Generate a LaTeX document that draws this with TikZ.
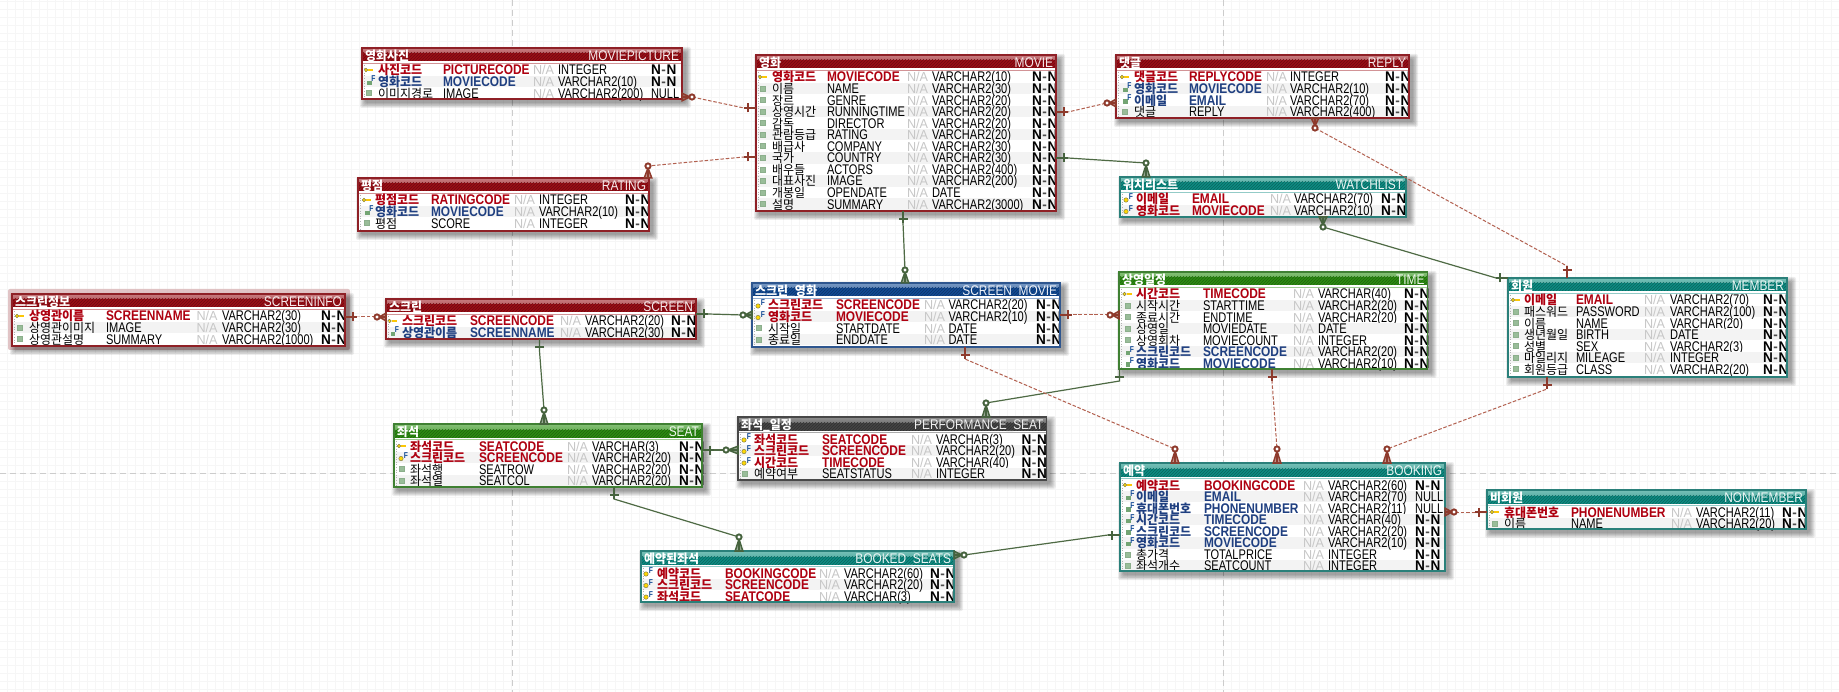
\documentclass[tikz,border=0pt]{standalone}
\usepackage{fontspec}
\usetikzlibrary{calc,patterns}
\setmainfont{Liberation Sans}
\newfontfamily\fReg{Liberation Sans}[FakeStretch=0.79]
\newfontfamily\fBld{Liberation Sans}[FakeStretch=0.85]
\newfontfamily\fWide{Liberation Sans}[FakeStretch=0.97]
\newfontfamily\fKor{Noto Sans CJK KR}[FakeStretch=0.96]
\definecolor{redband}{HTML}{9A0E16}\definecolor{redlight}{HTML}{BC6468}\definecolor{redframe}{HTML}{8F2026}
\definecolor{greenband}{HTML}{2C8C12}\definecolor{greenlight}{HTML}{6FB45E}\definecolor{greenframe}{HTML}{3F8032}
\definecolor{tealband}{HTML}{0E8C82}\definecolor{teallight}{HTML}{5FB4AA}\definecolor{tealframe}{HTML}{2A807A}
\definecolor{blueband}{HTML}{124A94}\definecolor{bluelight}{HTML}{6086B8}\definecolor{blueframe}{HTML}{2E568F}
\definecolor{darkband}{HTML}{444444}\definecolor{darklight}{HTML}{7A7A7A}\definecolor{darkframe}{HTML}{484848}
\definecolor{keyred}{HTML}{AE0010}\definecolor{fkblue}{HTML}{1F3F80}\definecolor{stripe}{HTML}{F3F3F3}
\definecolor{relred}{HTML}{8E3A2C}\definecolor{relredl}{HTML}{B2604F}\definecolor{relgreen}{HTML}{46633E}\definecolor{relgreenl}{HTML}{4E6A44}
\tikzset{
  cell/.style={inner sep=0pt,outer sep=0pt,anchor=base west},
  tblbox/.style={inner sep=0pt,outer sep=0pt,anchor=north west},
  guideline/.style={draw=black!20,line width=.9pt,dash pattern=on 6pt off 4pt},
  redmark/.style={color=relred},
  greenmark/.style={color=relgreen},
  redline/.style={draw=relredl,line width=1pt,dash pattern=on 3.5pt off 1.8pt},
  greenline/.style={draw=relgreenl,line width=1.2pt},
  crowmark/.pic={
    \draw[line width=1.5pt,fill,fill opacity=.55] (0,-3.8) -- (#1-2,0) -- (0,3.8) -- cycle;
    \draw[line width=1.7pt] (0,0) -- (#1,0);
    \draw[line width=1.9pt,fill=white] (#1,0) circle (2.6pt);
  },
  barmark/.pic={
    \draw[line width=1.9pt] (0,0) -- (12,0);
    \draw[line width=1.9pt] (8,-4.5) -- (8,4.5);
  }
}
\newcount\cellno
\newcommand\cell[3]{\global\advance\cellno 1 \node[cell,#1] (cell\the\cellno) at (#2) {#3};}
% table: name x1 y1 x2 y2 theme korean english
\newcommand\tbl[8]{%
  \def\tx{#2}\def\ty{#3}\def\tX{#4}\def\tY{#5}\def\tname{#1}%
  \colorlet{band}{#6band}\colorlet{lite}{#6light}\colorlet{frame}{#6frame}%
  \def\rowi{0}%
  \foreach \e in {6,5,4,3,2,1}
    \fill[black,opacity=.07,rounded corners=2pt] ({#2+4-\e},{#3+5-\e}) rectangle ({#4+3+\e},{#5+3+\e});
  \fill[white] (#2,#3) rectangle (#4,#5);
  \fill[band] (#2,#3) rectangle (#4,#3+14);
  \shade[top color=lite!85!white,bottom color=lite] (#2,#3) rectangle (#4,#3+5);
  \fill[pattern=north east lines,pattern color=band!72!black] (#2,#3+5) rectangle (#4,#3+13.5);
  \fill[white] (#2,#3+13.5) rectangle (#4,#3+15);
  \fill[band!45!white] (#2,#3+15) rectangle (#4,#3+16);
  \node[tblbox,minimum width={(#4-#2)*1pt},minimum height={(#5-#3)*1pt}] (#1) at (#2,#3) {};
  \cell{text=white}{#2+3,#3+12.5}{\fKor\bfseries\fontsize{12.5}{13}\selectfont #7}
  \global\advance\cellno 1
  \node[cell,anchor=base east,text=white!88!lite] (cell\the\cellno) at (#4-3,#3+12.5) {\fBld\fontsize{14}{14}\selectfont #8};
}
\newcommand\cols[6]{\def\cI{#1}\def\cK{#2}\def\cE{#3}\def\cN{#4}\def\cT{#5}\def\cL{#6}}
\newcommand\iconF[2]{\global\advance\cellno 1
  \node[cell,anchor=center,text=blueband] (cell\the\cellno) at (#1,#2) {\fReg\bfseries\fontsize{8.5}{8}\selectfont F};}
\newcommand\rowicon[3]{%
  \ifx#1k
    \draw[draw=black!55!yellow,fill=yellow!75!orange,line width=.5pt] (#2-3,#3) circle (1.8pt);
    \draw[draw=yellow!60!orange,line width=1.5pt] (#2-1,#3) -- (#2+4,#3);
  \fi
  \ifx#1d
    \draw[draw=black!55!yellow,fill=yellow!75!orange,line width=.5pt] (#2-1,#3+1) circle (2.2pt);
    \iconF{#2+4}{#3-2}
  \fi
  \ifx#1f
    \fill[green!35!black!55!white] (#2-2,#3-1) rectangle (#2+2.5,#3+3.5);
    \iconF{#2+4.5}{#3-2.5}
  \fi
  \ifx#1p
    \filldraw[draw=green!30!black!45!white,fill=green!35!black!40!white,line width=.6pt] (#2-2.5,#3-2.5) rectangle (#2+2.5,#3+2.5);
  \fi
}
% row: icon kind korean english type nn
\newcommand\row[6]{%
  \pgfmathsetmacro\ry{\ty+22+\rowi*11.55}%
  \pgfmathsetmacro\rb{\ry+5}%
  \pgfmathparse{int(mod(\rowi,2))}%
  \ifnum\pgfmathresult=1 \fill[stripe] (\tx+.5,\ry-5.75) rectangle (\tX-.5,\ry+5.75);\fi
  \rowicon{#1}{\cI}{\ry}
  \if#2k
    \cell{text=keyred}{\cK,\rb}{\fKor\bfseries\fontsize{12.5}{13}\selectfont #3}
    \cell{text=keyred}{\cE,\rb}{\fBld\bfseries\fontsize{14}{14}\selectfont #4}
  \else\if#2f
    \cell{text=fkblue}{\cK,\rb}{\fKor\bfseries\fontsize{12.5}{13}\selectfont #3}
    \cell{text=fkblue}{\cE,\rb}{\fBld\bfseries\fontsize{14}{14}\selectfont #4}
  \else
    \cell{text=black}{\cK,\rb}{\fKor\fontsize{12.5}{13}\selectfont #3}
    \cell{text=black}{\cE,\rb}{\fReg\fontsize{14}{14}\selectfont #4}
  \fi\fi
  \cell{text=black!22}{\cN,\rb}{\fWide\fontsize{13}{13}\selectfont N/A}
  \cell{text=black}{\cT,\rb}{\fReg\fontsize{14}{14}\selectfont #5}
  \cell{text=black}{\cL,\rb}{#6}
  \pgfmathsetmacro\rowi{int(\rowi+1)}%
}
\newcommand\NN{\fWide\bfseries\fontsize{14}{14}\selectfont N{\color{black!70}\kern.6pt-\kern.6pt}N}
\newcommand\NU{\fReg\fontsize{14}{14}\selectfont NULL}
\newcommand\closetbl{%
  \draw[black!30,line width=.6pt,dotted] (\tx+2.5,\ty+17) -- (\tx+2.5,\tY-1);
  \draw[frame,line width=1.4pt] (\tx,\ty) rectangle (\tX,\tY);
}
% connector: kind A rotA lenA B rotB
\newcommand\conn[6]{%
  \draw[#1line] (#2) -- ($(#2)+(#3:#4pt)$) -- ($(#5)+(#6:12pt)$) -- (#5);
  \path (#2) pic[rotate=#3,#1mark] {crowmark=#4};
  \path (#5) pic[rotate=#6,#1mark] {barmark};
}
\begin{document}
\begin{tikzpicture}[x=1pt,y=-1pt]
\useasboundingbox (0,0) rectangle (1839,692);
\fill[white] (0,0) rectangle (1839,692);
\foreach \gx in {0,...,229} \draw[black!3.5,line width=.9pt] ({7.5+8*\gx},0) -- ({7.5+8*\gx},692);
\foreach \gy in {0,...,86} \draw[black!3.5,line width=.9pt] (0,{1+8*\gy}) -- (1839,{1+8*\gy});
\coordinate (gvaT) at (512,0); \coordinate (gvaB) at (512,692);
\coordinate (gvbT) at (1223,0); \coordinate (gvbB) at (1223,692);
\coordinate (ghL) at (0,473); \coordinate (ghR) at (1839,473);
\draw[guideline] (gvaT) -- (gvaB);
\draw[guideline] (gvbT) -- (gvbB);
\draw[guideline] (ghL) -- (ghR);
\fill[redframe!35!white,rounded corners=2pt,opacity=.75] (8,289) rectangle (350,350);

\tbl{moviepicture}{362}{48}{682}{99}{red}{영화사진}{MOVIEPICTURE}
\cols{369}{378}{443}{533}{558}{651}
\row{k}{k}{사진코드}{PICTURECODE}{INTEGER}{\NN}
\row{f}{f}{영화코드}{MOVIECODE}{VARCHAR2(10)}{\NN}
\row{p}{n}{이미지경로}{IMAGE}{VARCHAR2(200)}{\NU}
\closetbl

\tbl{rating}{358}{178}{649}{231}{red}{평점}{RATING}
\cols{367}{375}{431}{514}{539}{625}
\row{k}{k}{평점코드}{RATINGCODE}{INTEGER}{\NN}
\row{f}{f}{영화코드}{MOVIECODE}{VARCHAR2(10)}{\NN}
\row{p}{n}{평점}{SCORE}{INTEGER}{\NN}
\closetbl

\tbl{movie}{756}{55}{1056}{211}{red}{영화}{MOVIE}
\cols{763}{772}{827}{907}{932}{1032}
\row{k}{k}{영화코드}{MOVIECODE}{VARCHAR2(10)}{\NN}
\row{p}{n}{이름}{NAME}{VARCHAR2(30)}{\NN}
\row{p}{n}{장르}{GENRE}{VARCHAR2(20)}{\NN}
\row{p}{n}{상영시간}{RUNNINGTIME}{VARCHAR2(20)}{\NN}
\row{p}{n}{감독}{DIRECTOR}{VARCHAR2(20)}{\NN}
\row{p}{n}{관람등급}{RATING}{VARCHAR2(20)}{\NN}
\row{p}{n}{배급사}{COMPANY}{VARCHAR2(30)}{\NN}
\row{p}{n}{국가}{COUNTRY}{VARCHAR2(30)}{\NN}
\row{p}{n}{배우들}{ACTORS}{VARCHAR2(400)}{\NN}
\row{p}{n}{대표사진}{IMAGE}{VARCHAR2(200)}{\NN}
\row{p}{n}{개봉일}{OPENDATE}{DATE}{\NN}
\row{p}{n}{설명}{SUMMARY}{VARCHAR2(3000)}{\NN}
\closetbl

\tbl{reply}{1116}{55}{1409}{118}{red}{댓글}{REPLY}
\cols{1125}{1134}{1189}{1266}{1290}{1385}
\row{k}{k}{댓글코드}{REPLYCODE}{INTEGER}{\NN}
\row{f}{f}{영화코드}{MOVIECODE}{VARCHAR2(10)}{\NN}
\row{f}{f}{이메일}{EMAIL}{VARCHAR2(70)}{\NN}
\row{p}{n}{댓글}{REPLY}{VARCHAR2(400)}{\NN}
\closetbl

\tbl{watchlist}{1120}{177}{1406}{217}{teal}{워치리스트}{WATCHLIST}
\cols{1127}{1136}{1192}{1270}{1294}{1381}
\row{d}{k}{이메일}{EMAIL}{VARCHAR2(70)}{\NN}
\row{d}{k}{영화코드}{MOVIECODE}{VARCHAR2(10)}{\NN}
\closetbl

\tbl{screeninfo}{12}{294}{345}{346}{red}{스크린정보}{SCREENINFO}
\cols{20}{29}{106}{196.5}{222}{321}
\row{k}{k}{상영관이름}{SCREENNAME}{VARCHAR2(30)}{\NN}
\row{p}{n}{상영관이미지}{IMAGE}{VARCHAR2(30)}{\NN}
\row{p}{n}{상영관설명}{SUMMARY}{VARCHAR2(1000)}{\NN}
\closetbl

\tbl{screen}{386}{299}{696}{339}{red}{스크린}{SCREEN}
\cols{392.5}{402}{470}{560}{585}{671}
\row{k}{k}{스크린코드}{SCREENCODE}{VARCHAR2(20)}{\NN}
\row{f}{f}{상영관이름}{SCREENNAME}{VARCHAR2(30)}{\NN}
\closetbl

\tbl{screenmovie}{752}{283}{1060}{347}{blue}{스크린\_영화}{SCREEN\_MOVIE}
\cols{759}{768}{836}{924}{948.5}{1036}
\row{d}{k}{스크린코드}{SCREENCODE}{VARCHAR2(20)}{\NN}
\row{d}{k}{영화코드}{MOVIECODE}{VARCHAR2(10)}{\NN}
\row{p}{n}{시작일}{STARTDATE}{DATE}{\NN}
\row{p}{n}{종료일}{ENDDATE}{DATE}{\NN}
\closetbl

\tbl{timetbl}{1119}{272}{1427.5}{369}{green}{상영일정}{TIME}
\cols{1127.5}{1136}{1203}{1293}{1318}{1404}
\row{k}{k}{시간코드}{TIMECODE}{VARCHAR(40)}{\NN}
\row{p}{n}{시작시간}{STARTTIME}{VARCHAR2(20)}{\NN}
\row{p}{n}{종료시간}{ENDTIME}{VARCHAR2(20)}{\NN}
\row{p}{n}{상영일}{MOVIEDATE}{DATE}{\NN}
\row{p}{n}{상영회차}{MOVIECOUNT}{INTEGER}{\NN}
\row{f}{f}{스크린코드}{SCREENCODE}{VARCHAR2(20)}{\NN}
\row{f}{f}{영화코드}{MOVIECODE}{VARCHAR2(10)}{\NN}
\closetbl

\tbl{member}{1508}{278}{1787}{377}{teal}{회원}{MEMBER}
\cols{1516}{1524}{1576}{1644}{1670}{1763}
\row{k}{k}{이메일}{EMAIL}{VARCHAR2(70)}{\NN}
\row{p}{n}{패스워드}{PASSWORD}{VARCHAR2(100)}{\NN}
\row{p}{n}{이름}{NAME}{VARCHAR(20)}{\NN}
\row{p}{n}{생년월일}{BIRTH}{DATE}{\NN}
\row{p}{n}{성별}{SEX}{VARCHAR2(3)}{\NN}
\row{p}{n}{마일리지}{MILEAGE}{INTEGER}{\NN}
\row{p}{n}{회원등급}{CLASS}{VARCHAR2(20)}{\NN}
\closetbl

\tbl{seat}{394}{424}{702}{487}{green}{좌석}{SEAT}
\cols{402}{410}{479}{567}{592}{679}
\row{k}{k}{좌석코드}{SEATCODE}{VARCHAR(3)}{\NN}
\row{d}{k}{스크린코드}{SCREENCODE}{VARCHAR2(20)}{\NN}
\row{p}{n}{좌석행}{SEATROW}{VARCHAR2(20)}{\NN}
\row{p}{n}{좌석열}{SEATCOL}{VARCHAR2(20)}{\NN}
\closetbl

\tbl{perfseat}{738}{417}{1046.5}{480}{dark}{좌석\_일정}{PERFORMANCE\_SEAT}
\cols{745}{754}{822}{911}{936}{1021.5}
\row{d}{k}{좌석코드}{SEATCODE}{VARCHAR(3)}{\NN}
\row{d}{k}{스크린코드}{SCREENCODE}{VARCHAR2(20)}{\NN}
\row{d}{k}{시간코드}{TIMECODE}{VARCHAR(40)}{\NN}
\row{p}{n}{예약여부}{SEATSTATUS}{INTEGER}{\NN}
\closetbl

\tbl{bookedseats}{641}{551}{954}{602}{teal}{예약된좌석}{BOOKED\_SEATS}
\cols{647}{657}{725}{819}{844}{930}
\row{d}{k}{예약코드}{BOOKINGCODE}{VARCHAR2(60)}{\NN}
\row{d}{k}{스크린코드}{SCREENCODE}{VARCHAR2(20)}{\NN}
\row{d}{k}{좌석코드}{SEATCODE}{VARCHAR(3)}{\NN}
\closetbl

\tbl{booking}{1120}{463}{1445}{571}{teal}{예약}{BOOKING}
\cols{1128}{1136}{1204}{1303}{1328}{1415}
\row{k}{k}{예약코드}{BOOKINGCODE}{VARCHAR2(60)}{\NN}
\row{f}{f}{이메일}{EMAIL}{VARCHAR2(70)}{\NU}
\row{f}{f}{휴대폰번호}{PHONENUMBER}{VARCHAR2(11)}{\NU}
\row{f}{f}{시간코드}{TIMECODE}{VARCHAR(40)}{\NN}
\row{f}{f}{스크린코드}{SCREENCODE}{VARCHAR2(20)}{\NN}
\row{f}{f}{영화코드}{MOVIECODE}{VARCHAR2(10)}{\NN}
\row{p}{n}{총가격}{TOTALPRICE}{INTEGER}{\NN}
\row{p}{n}{좌석개수}{SEATCOUNT}{INTEGER}{\NN}
\closetbl

\tbl{nonmember}{1487}{490}{1806}{529}{teal}{비회원}{NONMEMBER}
\cols{1495}{1504}{1571}{1671}{1696}{1782}
\row{k}{k}{휴대폰번호}{PHONENUMBER}{VARCHAR2(11)}{\NN}
\row{p}{n}{이름}{NAME}{VARCHAR2(20)}{\NN}
\closetbl

% connectors: crow end first, one-bar end second
\conn{red}{moviepicture.east |- 0,97}{0}{10}{movie.west |- 0,108}{180}
\conn{red}{648,0 |- rating.north}{90}{12}{movie.west |- 0,157}{180}
\conn{red}{reply.west |- 0,103}{180}{9}{movie.east |- 0,112}{0}
\conn{green}{1146,0 |- watchlist.north}{90}{14}{movie.east |- 0,158}{0}
\conn{green}{905,0 |- screenmovie.north}{90}{13}{903,0 |- movie.south}{-90}
\conn{red}{1315,0 |- reply.south}{-90}{10}{1567,0 |- member.north}{90}
\conn{green}{1323,0 |- watchlist.south}{-90}{10}{member.west |- 0,278}{180}
\conn{red}{screen.west |- 0,317}{180}{9}{screeninfo.east |- 0,317}{0}
\conn{green}{screenmovie.west |- 0,315}{180}{9}{screen.east |- 0,314}{0}
\conn{red}{timetbl.west |- 0,315}{180}{9}{screenmovie.east |- 0,315}{0}
\conn{green}{544,0 |- seat.north}{90}{14}{539.5,0 |- screen.south}{-90}
\conn{green}{perfseat.west |- 0,450}{180}{12}{seat.east |- 0,450}{0}
\conn{green}{739,0 |- bookedseats.north}{90}{14}{614,0 |- seat.south}{-90}
\conn{green}{986,0 |- perfseat.north}{90}{14}{1119.5,0 |- timetbl.south}{-90}
\conn{red}{1175,0 |- booking.north}{90}{14}{965,0 |- screenmovie.south}{-90}
\conn{red}{1277,0 |- booking.north}{90}{14}{1272,0 |- timetbl.south}{-90}
\conn{red}{1387,0 |- booking.north}{90}{14}{1547,0 |- member.south}{-90}
\conn{red}{booking.east |- 0,512}{0}{9}{nonmember.west |- 0,512}{180}
\conn{green}{bookedseats.east |- 0,555}{0}{10}{booking.west |- 0,535}{180}
\end{tikzpicture}
\end{document}
